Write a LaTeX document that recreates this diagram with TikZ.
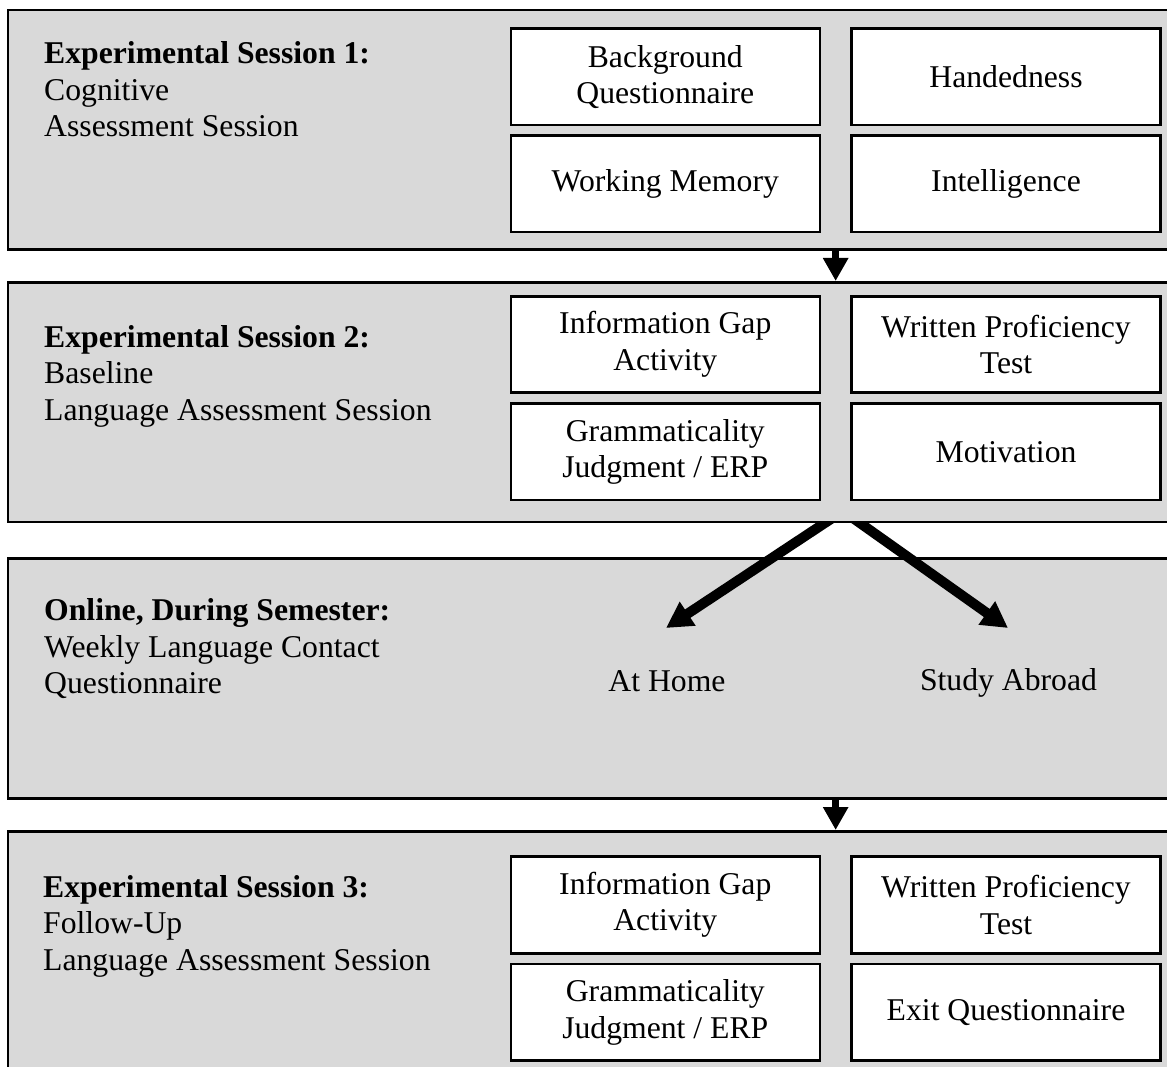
\documentclass[tikz,border=0pt]{standalone}
\usepackage{fontspec}
\setmainfont{Liberation Serif}
\usetikzlibrary{arrows.meta,positioning,calc}
\definecolor{panelgray}{HTML}{D9D9D9}
\newcommand{\fsize}{\fontsize{31.7}{36.5}\selectfont}

\begin{document}
\begin{tikzpicture}[x=1pt, y=-1pt,
panel/.style={rectangle, draw=black, fill=panelgray, line width=2.6pt, inner sep=0pt, minimum width=1168pt, anchor=north west},
block/.style={rectangle, draw=black, fill=white, line width=2.6pt, minimum width=309pt, minimum height=96.5pt, inner sep=0pt, align=center, font=\fsize},
lbl/.style={inner sep=0pt, align=left, anchor=base west, font=\fsize},
dest/.style={inner sep=0pt, anchor=base, font=\fsize},
varr/.style={-{Triangle[length=23pt,width=24pt]}, line width=7pt},
darr/.style={-{Triangle[length=26pt,width=27pt]}, line width=10pt}]
 \useasboundingbox (0,0) rectangle (1167,1067);

 % session panels (panel 2 comes after the fork arrows, so it hides their start)
 \node[panel, minimum height=239.3pt] (s1) at (6.5,8.7) {};
 \node[panel, minimum height=240pt] (s3) at (6.5,557) {};
 \node[panel, minimum height=242pt] (s4) at (6.5,830) {};
 \coordinate (fork) at (843,511);
 \coordinate (hometip) at (666,628);
 \coordinate (abroadtip) at (1008,628);
 \draw[darr] (fork) -- (hometip);
 \draw[darr] (fork) -- (abroadtip);
 \node[panel, minimum height=239.7pt] (s2) at (6.5,281) {};

 % session 1 (label placed by its last line)
 \node[lbl] (t1) at (44,137) {\textbf{Experimental Session 1:}\\Cognitive\\Assessment Session};
 \node[block] (bg) at (665.3,76.9) {Background\\Questionnaire};
 \node[block, right of=bg, node distance=340.7pt] (hand) {Handedness};
 \node[block, below of=bg, node distance=107pt] (wm) {Working Memory};
 \node[block, right of=wm, node distance=340.7pt] (iq) {Intelligence};

 % session 2
 \node[lbl] (t2) at (44,420) {\textbf{Experimental Session 2:}\\Baseline\\Language Assessment Session};
 \node[block] (gap2) at (665.3,344.5) {Information Gap\\Activity};
 \node[block, right of=gap2, node distance=340.7pt] (wpt2) {Written Proficiency\\Test};
 \node[block, below of=gap2, node distance=107.4pt] (gj2) {Grammaticality\\Judgment / ERP};
 \node[block, right of=gj2, node distance=340.7pt] (mot) {Motivation};

 % online
 \node[lbl] (t3) at (44,693.5) {\textbf{Online, During Semester:}\\Weekly Language Contact\\Questionnaire};
 \node[dest] (home) at (667,691.7) {At Home};
 \node[dest] (abroad) at (1008.5,690) {Study Abroad};

 % session 3
 \node[lbl] (t4) at (43,970) {\textbf{Experimental Session 3:}\\Follow-Up\\Language Assessment Session};
 \node[block] (gap3) at (665.3,905) {Information Gap\\Activity};
 \node[block, right of=gap3, node distance=340.7pt] (wpt3) {Written Proficiency\\Test};
 \node[block, below of=gap3, node distance=107.4pt] (gj3) {Grammaticality\\Judgment / ERP};
 \node[block, right of=gj3, node distance=340.7pt] (exit) {Exit Questionnaire};

 \coordinate (mid1) at ($(wm.east)!0.5!(iq.west)$);
 \coordinate (mid3) at ($(gap3.east)!0.5!(wpt3.west)$);
 \draw[varr] (s1.south -| mid1) -- (s2.north -| mid1);
 \draw[varr] (s3.south -| mid3) -- (s4.north -| mid3);

\end{tikzpicture}
\end{document}
